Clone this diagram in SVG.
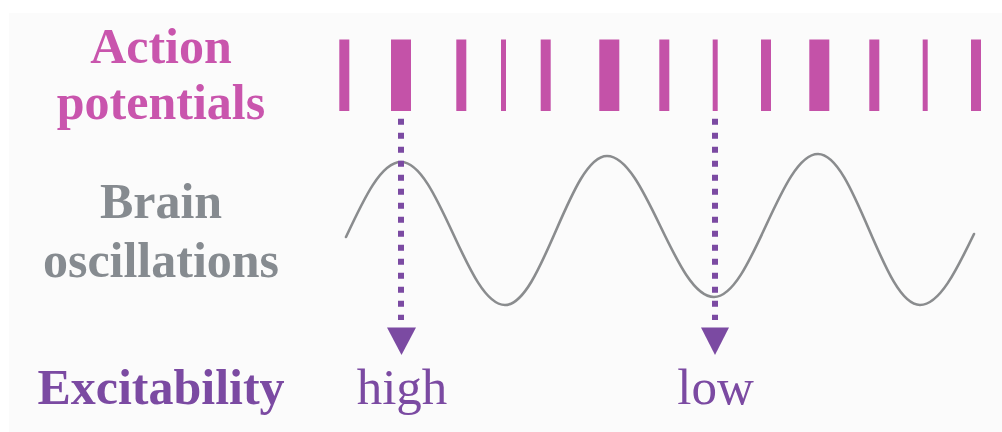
<svg xmlns="http://www.w3.org/2000/svg" width="1002" height="432" viewBox="0 0 1002 432">
  <defs>
    <style>
      .lbl { font-family: "Liberation Serif", "Times New Roman", serif; font-weight: bold; font-size: 50px; text-anchor: middle; }
      .ap { fill: #c955ad; }
      .osc { fill: #868b90; }
      .exc { fill: #7b4aa2; }
      .val { font-family: "Liberation Serif", "Times New Roman", serif; font-size: 51px; fill: #7b4aa2; text-anchor: middle; }
      .spike { fill: #c452a8; }
      .wave { fill: none; stroke: #8a8c8e; stroke-width: 2.6; stroke-linecap: round; }
      .dot { stroke: #7b4aa2; stroke-width: 6; stroke-dasharray: 6 8; fill: none; }
      .head { fill: #7b4aa2; }
    </style>
  </defs>
  <rect x="0" y="0" width="1002" height="432" fill="#ffffff"/>
  <rect x="9" y="13" width="993" height="419" fill="#fbfbfb"/>

  <g id="label-action-potentials">
    <text class="lbl ap" x="161" y="62.5">Action</text>
    <text class="lbl ap" x="161" y="119">potentials</text>
  </g>
  <g id="label-brain-oscillations">
    <text class="lbl osc" x="161" y="218">Brain</text>
    <text class="lbl osc" x="161" y="276.5">oscillations</text>
  </g>
  <g id="label-excitability">
    <text class="lbl exc" x="161" y="404">Excitability</text>
  </g>

  <g id="spikes">
    <rect class="spike" x="339.3" y="39.5" width="10" height="71.5"/>
    <rect class="spike" x="391" y="39.5" width="20" height="71.5"/>
    <rect class="spike" x="456.3" y="39.5" width="10" height="71.5"/>
    <rect class="spike" x="501" y="39.5" width="5" height="71.5"/>
    <rect class="spike" x="540.7" y="39.5" width="10" height="71.5"/>
    <rect class="spike" x="599.3" y="39.5" width="20" height="71.5"/>
    <rect class="spike" x="659.3" y="39.5" width="10" height="71.5"/>
    <rect class="spike" x="712.7" y="39.5" width="5" height="71.5"/>
    <rect class="spike" x="761" y="39.5" width="10" height="71.5"/>
    <rect class="spike" x="809.3" y="39.5" width="20" height="71.5"/>
    <rect class="spike" x="869.3" y="39.5" width="10" height="71.5"/>
    <rect class="spike" x="922.7" y="39.5" width="5" height="71.5"/>
    <rect class="spike" x="971" y="39.5" width="10" height="71.5"/>
  </g>

  <g id="oscillation">
    <path class="wave" d="M346,237 C363.9,198.6 381.1,162 401,162 C438.9,162 467.1,305 505,305 C542.1,305 569.9,156 607,156 C646,156 675,297 714,297 C751.9,297 780.1,154 818,154 C855.1,154 882.9,305 920,305 C939.5,305 956.4,270.4 974,234"/>
  </g>

  <g id="connectors">
    <g id="arrow-high">
      <line class="dot" x1="401" y1="118.7" x2="401" y2="320"/>
      <polygon class="head" points="387,327.5 416,327.5 401.5,355"/>
    </g>
    <g id="arrow-low">
      <line class="dot" x1="715" y1="118.7" x2="715" y2="320"/>
      <polygon class="head" points="701,327.5 729,327.5 715,355"/>
    </g>
  </g>

  <g id="value-high">
    <text class="val" x="402" y="404">high</text>
  </g>
  <g id="value-low">
    <text class="val" x="715.5" y="404">low</text>
  </g>
</svg>
